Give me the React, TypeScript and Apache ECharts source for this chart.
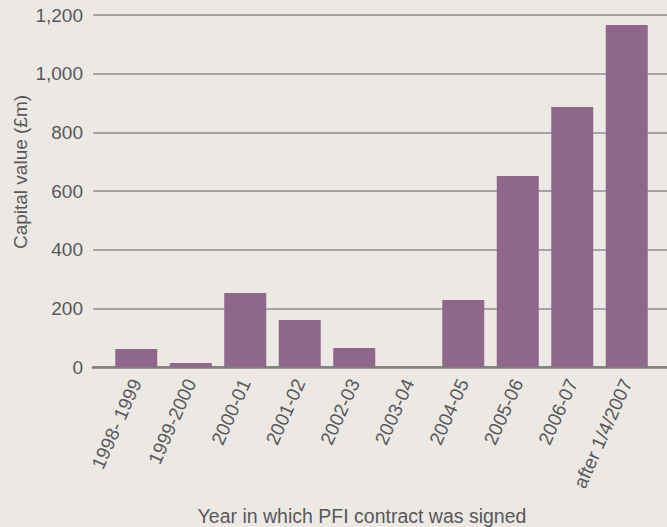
import React, { useEffect, useRef } from "react";
import * as echarts from "echarts";

const categories = [
  "1998- 1999",
  "1999-2000",
  "2000-01",
  "2001-02",
  "2002-03",
  "2003-04",
  "2004-05",
  "2005-06",
  "2006-07",
  "after 1/4/2007",
];
const capitalValues = [61, 14, 252, 160, 65, 0, 228, 651, 886, 1166];
const yTicks = [0, 200, 400, 600, 800, 1000, 1200];

const FONT = "'Liberation Sans', Arial, sans-serif";
const TEXT = "#58585a";

export default function App() {
  const ref = useRef<HTMLDivElement>(null);
  useEffect(() => {
    if (!ref.current) return;
    const chart = echarts.init(ref.current, undefined, { renderer: "svg" });
    chart.setOption({
      animation: false,
      backgroundColor: "#ece9e4",
      textStyle: { fontFamily: FONT },
      grid: [
        { left: 93, right: 0, top: 15, bottom: 160 },
        { left: 109, width: 545, top: 15, bottom: 160 },
      ],
      xAxis: [
        {
          gridIndex: 0,
          type: "value",
          min: 0,
          max: 1,
          axisLabel: { show: false },
          axisTick: { show: false },
          splitLine: { show: false },
          axisLine: { show: true, lineStyle: { color: "#7f7f7f", width: 2.5 } },
        },
        {
          gridIndex: 1,
          type: "category",
          data: categories,
          axisLine: { show: false },
          axisTick: { show: false },
          axisLabel: {
            interval: 0,
            rotate: 66,
            margin: 13,
            color: TEXT,
            fontSize: 19,
            fontFamily: FONT,
          },
        },
      ],
      yAxis: [
        {
          gridIndex: 0,
          type: "value",
          min: 0,
          max: 1200,
          interval: 200,
          axisLine: { show: false },
          axisTick: { show: false },
          axisLabel: {
            margin: 10,
            color: TEXT,
            fontSize: 19,
            fontFamily: FONT,
            formatter: (v: number) =>
              yTicks.includes(v) ? v.toLocaleString("en-GB") : "",
          },
          splitLine: { lineStyle: { color: "#8c8c8c", width: 1.6 } },
        },
        {
          gridIndex: 1,
          type: "value",
          min: 0,
          max: 1200,
          interval: 200,
          show: false,
          splitLine: { show: false },
        },
      ],
      series: [
        {
          type: "bar",
          xAxisIndex: 1,
          yAxisIndex: 1,
          data: capitalValues,
          barWidth: 42,
          itemStyle: { color: "#8e678b" },
          z: 5,
        },
      ],
      graphic: [
        {
          type: "text",
          x: 20,
          y: 172,
          rotation: Math.PI / 2,
          style: {
            text: "Capital value (£m)",
            fill: TEXT,
            font: `19px ${FONT}`,
            align: "center",
            verticalAlign: "middle",
          },
        },
        {
          type: "text",
          x: 362,
          y: 516,
          style: {
            text: "Year in which PFI contract was signed",
            fill: TEXT,
            font: `19.5px ${FONT}`,
            align: "center",
            verticalAlign: "middle",
          },
        },
      ],
    });
    return () => chart.dispose();
  }, []);
  return (
    <div
      ref={ref}
      style={{ position: "fixed", left: 0, top: 0, width: 667, height: 527 }}
    />
  );
}
